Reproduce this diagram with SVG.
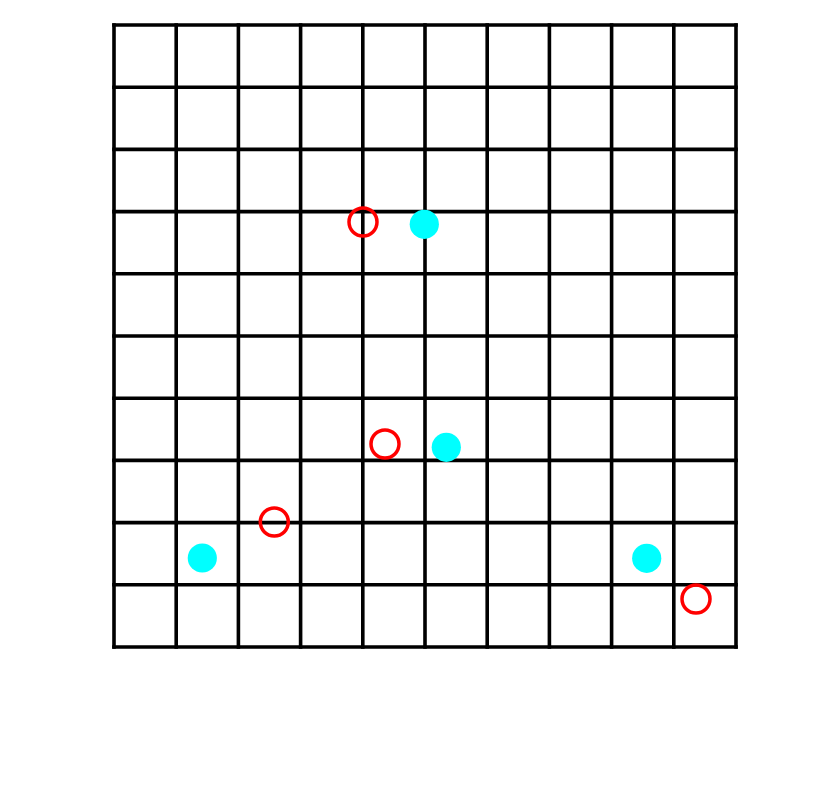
<svg xmlns="http://www.w3.org/2000/svg" width="816" height="800" viewBox="0 0 816 800">
<style>
.g{stroke:#000;stroke-width:3.6;fill:none;stroke-linecap:square}
.o{fill:none;stroke:#ff0000;stroke-width:3.5}
.f{fill:#00ffff;stroke:none}
</style>
<rect width="816" height="800" fill="#fff"/>
<g id="grid" class="g">
<path d="M114 25H736M114 87.2H736M114 149.4H736M114 211.6H736M114 273.8H736M114 336H736M114 398.2H736M114 460.4H736M114 522.6H736M114 584.8H736M114 647H736"/>
<path d="M114 25V647M176.2 25V647M238.4 25V647M300.6 25V647M362.8 25V647M425 25V647M487.2 25V647M549.4 25V647M611.6 25V647M673.8 25V647M736 25V647"/>
</g>
<g id="open">
<circle class="o" cx="363" cy="222" r="14"/>
<circle class="o" cx="385" cy="444" r="14"/>
<circle class="o" cx="274.3" cy="522" r="14"/>
<circle class="o" cx="696" cy="599" r="14"/>
</g>
<g id="filled">
<circle class="f" cx="424.3" cy="224.3" r="14.6"/>
<circle class="f" cx="446.3" cy="447.3" r="14.6"/>
<circle class="f" cx="202.3" cy="558" r="14.6"/>
<circle class="f" cx="646.7" cy="558.3" r="14.6"/>
</g>
</svg>
